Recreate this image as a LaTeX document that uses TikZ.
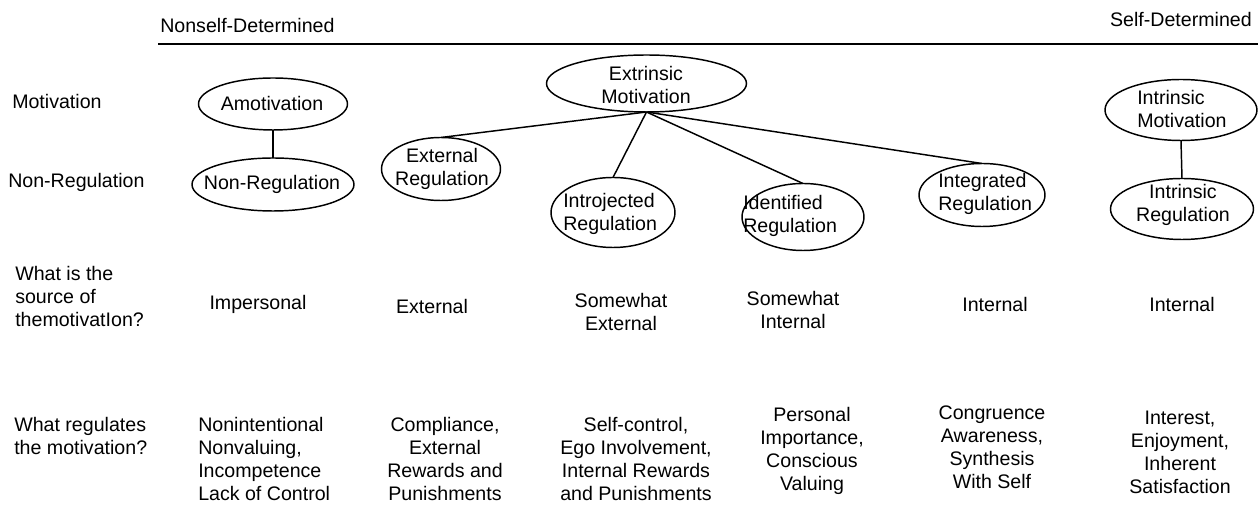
\documentclass[tikz,border=0pt]{standalone}
\usepackage{fontspec}
\setmainfont{Liberation Sans}
\usetikzlibrary{shapes.geometric}
\begin{document}
\begin{tikzpicture}[x=0.75pt,y=-0.75pt,
  oval/.style={draw, ellipse, line width=1.1pt, inner sep=0pt, outer sep=0pt},
  ovalsize/.style 2 args={minimum width=#1*0.75pt, minimum height=#2*0.75pt},
  txt/.style={inner sep=0pt, font=\fontsize{14.7}{17.25}\selectfont, align=center},
  ltxt/.style={txt, align=left},
  link/.style={line width=1.1pt}]
\useasboundingbox (0,0) rectangle (1258,505);

% scale header
\node[ltxt, anchor=west] (nsd) at (160,26) {Nonself-Determined};
\node[ltxt, anchor=east] (sd) at (1252,20) {Self-Determined};
\coordinate (ruleL) at (158,44);
\coordinate (ruleR) at (1258,44);
\draw[link] (ruleL) -- (ruleR);

% row headings
\node[ltxt, anchor=west] (hmot) at (12,101) {Motivation};
\node[ltxt, anchor=west] (hreg) at (8,182) {Non-Regulation};
\node[ltxt, anchor=west] (hsrc) at (15,296) {What is the\\source of\\themotivatIon?};
\node[ltxt, anchor=west] (hwhat) at (14,436) {What regulates\\the motivation?};

% ellipses
\node[oval, ovalsize={149}{52}] (amo) at (273,104) {};
\node[oval, ovalsize={162}{53}] (nonreg) at (273,184.5) {};
\node[oval, ovalsize={200}{57}] (extr) at (646.5,83.5) {};
\node[oval, ovalsize={119}{63}] (extreg) at (441,169) {};
\node[oval, ovalsize={124}{70}] (intro) at (613,212.5) {};
\node[oval, ovalsize={122}{67}] (ident) at (803,217) {};
\node[oval, ovalsize={126}{63}] (integ) at (982,195) {};
\node[oval, ovalsize={152}{61}] (intrm) at (1181,110) {};
\node[oval, ovalsize={143}{61}] (intrr) at (1182,209) {};

% ellipse texts
\node[txt] (tamo) at (272,104) {Amotivation};
\node[txt] (tnonreg) at (272,184) {Non-Regulation};
\node[txt] (textr) at (646,85) {Extrinsic\\Motivation};
\node[txt] (textreg) at (442,169) {External\\Regulation};
\node[ltxt, anchor=west] (tintro) at (563,214) {Introjected\\Regulation};
\node[ltxt, anchor=west] (tident) at (743,216) {Identified\\Regulation};
\node[ltxt, anchor=west] (tinteg) at (938,194) {Integrated\\Regulation};
\node[ltxt, anchor=west] (tintrm) at (1137,109) {Intrinsic\\Motivation};
\node[txt] (tintrr) at (1183,205) {Intrinsic\\Regulation};

% connectors
\draw[link] (amo.south) -- (nonreg.north);
\draw[link] (extr.south) -- (extreg.north);
\draw[link] (extr.south) -- (intro.north);
\draw[link] (extr.south) -- (ident.north);
\draw[link] (extr.south) -- (integ.north);
\draw[link] (intrm.south) -- (intrr.north);

% source of the motivation
\node[txt] (s1) at (258,304) {Impersonal};
\node[txt] (s2) at (432,306) {External};
\node[txt] (s3) at (621,312) {Somewhat\\External};
\node[txt] (s4) at (793,310) {Somewhat\\Internal};
\node[txt] (s5) at (995,304) {Internal};
\node[txt] (s6) at (1182,304) {Internal};

% what regulates the motivation
\node[ltxt, anchor=west] (r1) at (198,459) {Nonintentional\\Nonvaluing,\\Incompetence\\Lack of Control};
\node[txt] (r2) at (445,459) {Compliance,\\External\\Rewards and\\Punishments};
\node[txt] (r3) at (636,459) {Self-control,\\Ego Involvement,\\Internal Rewards\\and Punishments};
\node[txt] (r4) at (812,451) {Personal\\Importance,\\Conscious\\Valuing};
\node[txt] (r5) at (992,447) {Congruence\\Awareness,\\Synthesis\\With Self};
\node[txt] (r6) at (1180,452) {Interest,\\Enjoyment,\\Inherent\\Satisfaction};
\end{tikzpicture}
\end{document}
